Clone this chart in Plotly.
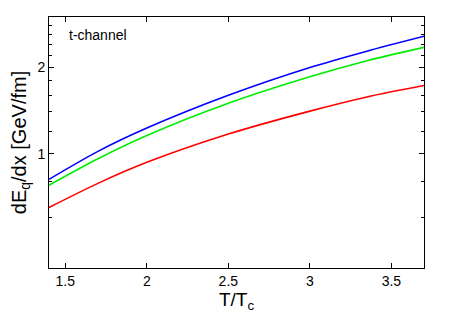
import plotly.graph_objects as go

T = [1.4, 1.7, 2.0, 2.5, 3.0, 3.35, 3.7]
blue = [0.815, 1.02, 1.23, 1.60, 2.00, 2.28, 2.57]
green = [0.777, 0.961, 1.158, 1.50, 1.855, 2.11, 2.35]
red = [0.65, 0.789, 0.934, 1.172, 1.409, 1.579, 1.73]

x_ticks = [1.5, 2, 2.5, 3, 3.5]
y_ticks = [1, 2]
y_minor = [0.4, 0.6, 0.8, 1.2, 1.4, 1.6, 1.8, 2.2, 2.4, 2.6, 2.8]

fig = go.Figure()
for ys, c in [(red, "#ff0000"), (green, "#00ee00"), (blue, "#0000ff")]:
    fig.add_trace(go.Scatter(x=T, y=ys, mode="lines", line=dict(color=c, width=1.6, shape="spline", smoothing=0.8),
                             showlegend=False, hoverinfo="skip"))

font = "Liberation Sans, Arial, sans-serif"
fig.update_layout(
    width=450, height=321,
    margin=dict(l=41, r=34, t=9, b=61),
    paper_bgcolor="white", plot_bgcolor="white",
    font=dict(family=font, size=14, color="black"),
    xaxis=dict(range=[1.4, 3.7], tickvals=x_ticks, ticktext=[str(v) for v in x_ticks],
               ticks="inside", ticklen=5, tickcolor="black", showline=True, linecolor="black",
               linewidth=1, mirror="allticks", showgrid=False, zeroline=False, automargin=False,
               title=dict(text="T/T<sub>c</sub>", font=dict(size=19), standoff=3)),
    yaxis=dict(type="log", range=[-0.398, 0.477], tickvals=y_ticks, ticktext=["1", "2"],
               ticks="inside", ticklen=5, tickcolor="black", showline=True, linecolor="black",
               linewidth=1, mirror="allticks", showgrid=False, zeroline=False, automargin=False,
               minor=dict(tickvals=y_minor, ticks="inside", ticklen=3, tickcolor="black", showgrid=False),
               title=dict(text="dE<sub>q</sub>/dx [GeV/fm]", font=dict(size=20), standoff=8)),
)
fig.add_annotation(x=0.048, y=0.93, xref="paper", yref="paper", text="t-channel", showarrow=False,
                   xanchor="left", yanchor="middle", font=dict(size=14))
fig.write_html("out.html")
